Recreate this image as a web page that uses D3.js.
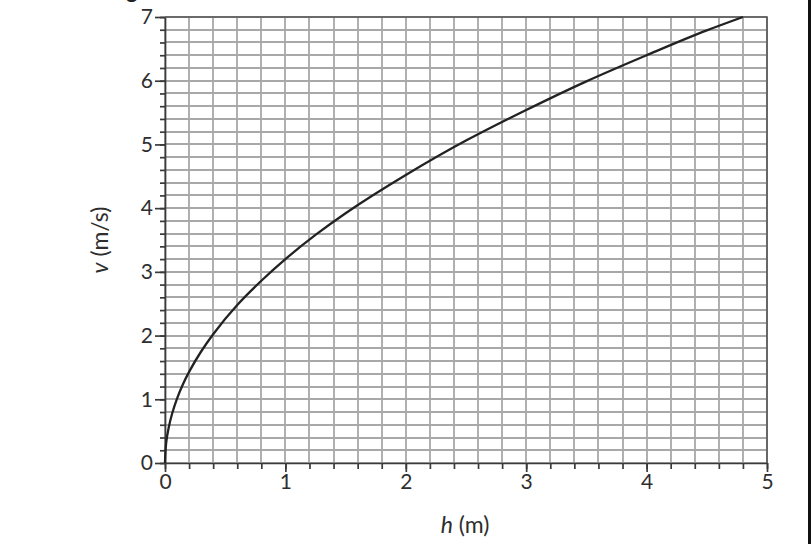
<!DOCTYPE html>
<html lang="en">
<head>
  <meta charset="UTF-8">
  <title>v against h</title>
  <script src="https://d3js.org/d3.v7.min.js"></script>
  <style>
    body { margin: 0; background: #fff; }
    svg { display: block; }
  </style>
</head>
<body>
  <svg width="811" height="544"></svg>

  <script>
    // h (m) and v (m/s)
    const hValues = [0, 0.01, 0.03, 0.06, 0.1, 0.15, 0.2, 0.3, 0.4, 0.6, 0.8, 1.0, 1.25, 1.5, 2.0, 2.5, 3.0, 3.5, 4.0, 4.5, 4.8];
    const vValues = [0, 0.32, 0.55, 0.78, 1.01, 1.24, 1.43, 1.75, 2.02, 2.48, 2.86, 3.2, 3.58, 3.92, 4.52, 5.06, 5.54, 5.99, 6.4, 6.79, 7.0];

    const xMajor = [0, 1, 2, 3, 4, 5];
    const yMajor = [0, 1, 2, 3, 4, 5, 6, 7];

    const data = hValues.map((h, i) => ({h: h, v: vValues[i]}));

    const FONT = "Lato, 'Open Sans', sans-serif";
    const svg = d3.select("svg");
    const plotLeft = 165, plotRight = 767, plotTop = 17, plotBottom = 463;

    const x = d3.scaleLinear().domain([0, 5]).range([plotLeft, plotRight]);
    const y = d3.scaleLinear().domain([0, 7]).range([plotBottom, plotTop]);

    // minor divisions every 0.2
    const xMinor = d3.range(0, 26).map(i => i / 5);
    const yMinor = d3.range(0, 36).map(i => i / 5);

    // grid, snapped to whole pixels so lines stay crisp
    const grid = svg.append("g");
    grid.selectAll("line.gx").data(xMinor).join("line")
      .attr("class", "gx")
      .attr("x1", d => Math.round(x(d))).attr("x2", d => Math.round(x(d)))
      .attr("y1", y(0)).attr("y2", y(7))
      .attr("stroke", "#a8a8a8").attr("stroke-width", 1.8);
    grid.selectAll("line.gy").data(yMinor).join("line")
      .attr("class", "gy")
      .attr("x1", x(0)).attr("x2", x(5))
      .attr("y1", d => Math.round(y(d))).attr("y2", d => Math.round(y(d)))
      .attr("stroke", "#a8a8a8").attr("stroke-width", 1.8);

    // frame top / right
    svg.append("path")
      .attr("d", `M${x(0)},${y(7)}H${x(5)}V${y(0)}`)
      .attr("fill", "none").attr("stroke", "#555").attr("stroke-width", 1.6);

    function styleAxis(g) {
      g.selectAll("line, path").attr("stroke", "#3a3a3a").attr("stroke-width", 1.7);
      g.selectAll("text")
        .style("font-family", FONT)
        .style("font-size", "21px")
        .attr("fill", "#2e2e2e");
    }

    // minor ticks
    svg.append("g")
      .attr("transform", `translate(0,${y(0)})`)
      .call(d3.axisBottom(x).tickValues(xMinor).tickSize(6).tickFormat(""))
      .call(styleAxis)
      .select(".domain").remove();
    svg.append("g")
      .attr("transform", `translate(${x(0)},0)`)
      .call(d3.axisLeft(y).tickValues(yMinor).tickSize(5).tickFormat(""))
      .call(styleAxis)
      .select(".domain").remove();

    // major axes
    svg.append("g")
      .attr("transform", `translate(0,${y(0)})`)
      .call(d3.axisBottom(x).tickValues(xMajor).tickSize(9).tickSizeOuter(0).tickPadding(2).tickFormat(d3.format("d")))
      .call(styleAxis);
    svg.append("g")
      .attr("transform", `translate(${x(0)},0)`)
      .call(d3.axisLeft(y).tickValues(yMajor).tickSize(10).tickSizeOuter(0).tickPadding(2).tickFormat(d3.format("d")))
      .call(styleAxis);

    // curve
    svg.append("path")
      .datum(data)
      .attr("fill", "none")
      .attr("stroke", "#222")
      .attr("stroke-width", 2.3)
      .attr("d", d3.line().x(d => x(d.h)).y(d => y(d.v)).curve(d3.curveMonotoneY));

    // axis labels
    const xl = svg.append("text")
      .attr("x", 465).attr("y", 533)
      .attr("text-anchor", "middle")
      .style("font-family", FONT).style("font-size", "23px").attr("fill", "#2e2e2e");
    xl.append("tspan").attr("font-style", "italic").text("h");
    xl.append("tspan").text(" (m)");

    const yl = svg.append("text")
      .attr("transform", "translate(108,240) rotate(-90)")
      .attr("text-anchor", "middle")
      .style("font-family", FONT).style("font-size", "23px").attr("fill", "#2e2e2e");
    yl.append("tspan").attr("font-style", "italic").text("v");
    yl.append("tspan").text(" (m/s)");

    // cut-off heading fragment and page edge
    svg.append("text")
      .attr("x", 126).attr("y", -2)
      .style("font-family", FONT).style("font-size", "22px").style("font-weight", "bold")
      .attr("fill", "#222")
      .text("g");
    svg.append("line")
      .attr("x1", 809.5).attr("x2", 809.5)
      .attr("y1", 0).attr("y2", 544)
      .attr("stroke", "#111").attr("stroke-width", 3);
  </script>
</body>
</html>
